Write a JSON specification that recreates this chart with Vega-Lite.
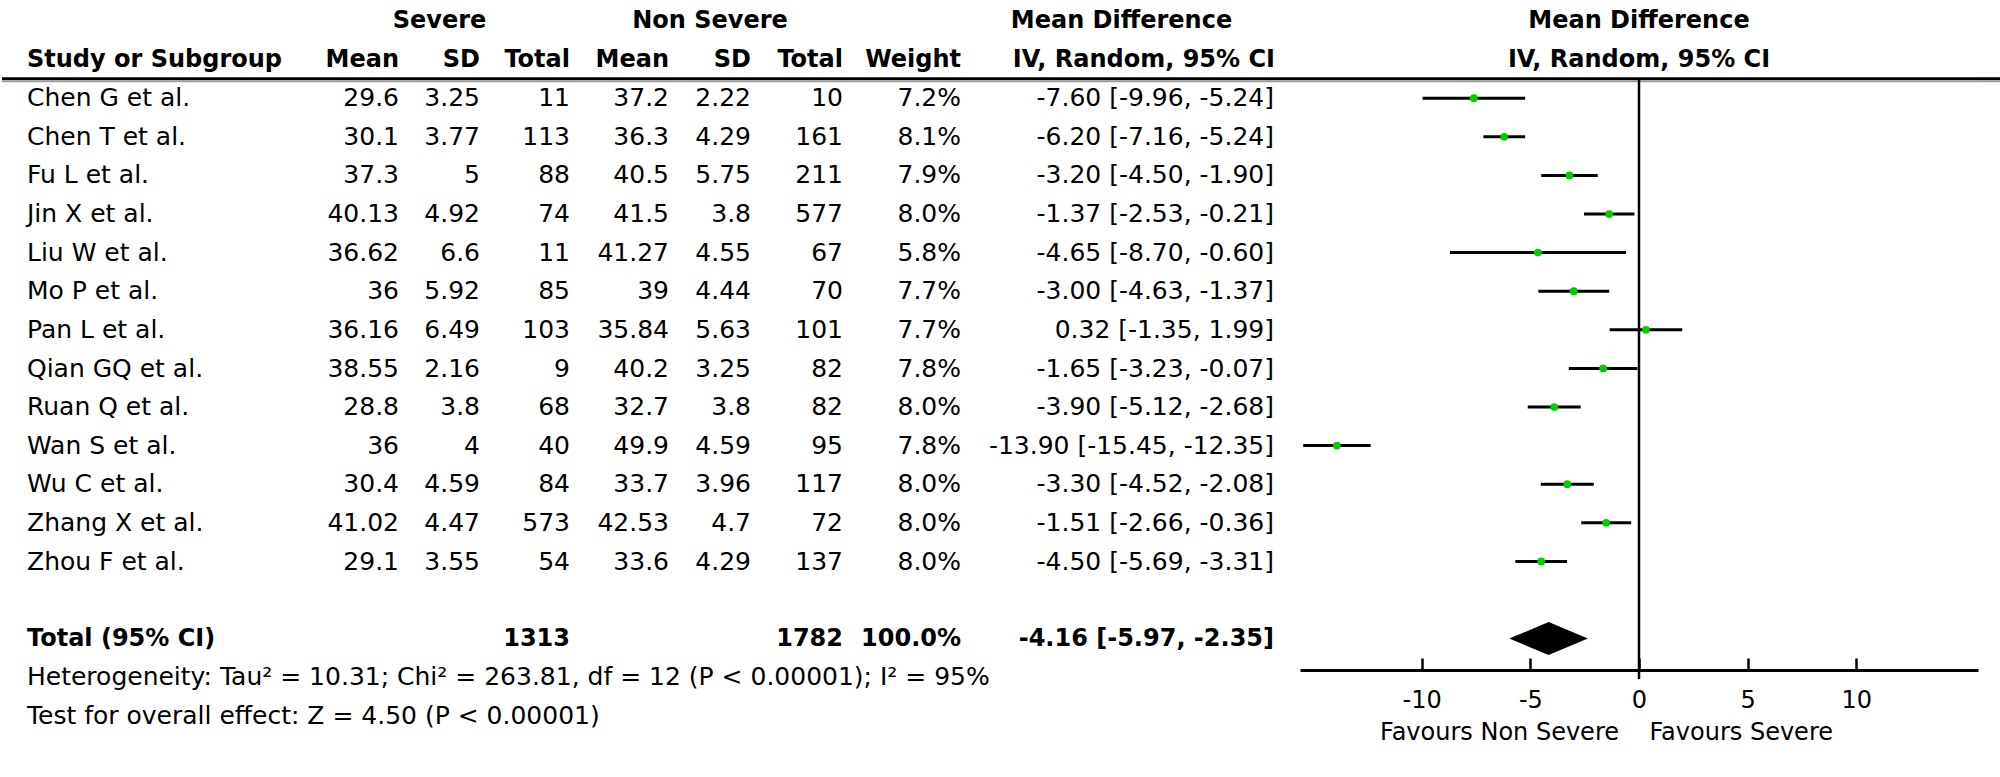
{
  "$schema": "https://vega.github.io/schema/vega-lite/v6.json",
  "background": "white",
  "padding": 0,
  "bounds": "flush",
  "spacing": 0,
  "config": {
    "view": {"stroke": null},
    "scale": {"round": false},
    "text": {"font": "DejaVu Sans", "fontSize": 25, "color": "black", "baseline": "middle"}
  },
  "datasets": {
    "studies": [
      {"study": "Chen G et al.", "m1": 29.6, "sd1": 3.25, "n1": 11, "m2": 37.2, "sd2": 2.22, "n2": 10, "weight": "7.2%", "ci": "-7.60 [-9.96, -5.24]", "md": -7.60, "lo": -9.96, "hi": -5.24},
      {"study": "Chen T et al.", "m1": 30.1, "sd1": 3.77, "n1": 113, "m2": 36.3, "sd2": 4.29, "n2": 161, "weight": "8.1%", "ci": "-6.20 [-7.16, -5.24]", "md": -6.20, "lo": -7.16, "hi": -5.24},
      {"study": "Fu L et al.", "m1": 37.3, "sd1": 5, "n1": 88, "m2": 40.5, "sd2": 5.75, "n2": 211, "weight": "7.9%", "ci": "-3.20 [-4.50, -1.90]", "md": -3.20, "lo": -4.50, "hi": -1.90},
      {"study": "Jin X et al.", "m1": 40.13, "sd1": 4.92, "n1": 74, "m2": 41.5, "sd2": 3.8, "n2": 577, "weight": "8.0%", "ci": "-1.37 [-2.53, -0.21]", "md": -1.37, "lo": -2.53, "hi": -0.21},
      {"study": "Liu W et al.", "m1": 36.62, "sd1": 6.6, "n1": 11, "m2": 41.27, "sd2": 4.55, "n2": 67, "weight": "5.8%", "ci": "-4.65 [-8.70, -0.60]", "md": -4.65, "lo": -8.70, "hi": -0.60},
      {"study": "Mo P et al.", "m1": 36, "sd1": 5.92, "n1": 85, "m2": 39, "sd2": 4.44, "n2": 70, "weight": "7.7%", "ci": "-3.00 [-4.63, -1.37]", "md": -3.00, "lo": -4.63, "hi": -1.37},
      {"study": "Pan L et al.", "m1": 36.16, "sd1": 6.49, "n1": 103, "m2": 35.84, "sd2": 5.63, "n2": 101, "weight": "7.7%", "ci": "0.32 [-1.35, 1.99]", "md": 0.32, "lo": -1.35, "hi": 1.99},
      {"study": "Qian GQ et al.", "m1": 38.55, "sd1": 2.16, "n1": 9, "m2": 40.2, "sd2": 3.25, "n2": 82, "weight": "7.8%", "ci": "-1.65 [-3.23, -0.07]", "md": -1.65, "lo": -3.23, "hi": -0.07},
      {"study": "Ruan Q et al.", "m1": 28.8, "sd1": 3.8, "n1": 68, "m2": 32.7, "sd2": 3.8, "n2": 82, "weight": "8.0%", "ci": "-3.90 [-5.12, -2.68]", "md": -3.90, "lo": -5.12, "hi": -2.68},
      {"study": "Wan S et al.", "m1": 36, "sd1": 4, "n1": 40, "m2": 49.9, "sd2": 4.59, "n2": 95, "weight": "7.8%", "ci": "-13.90 [-15.45, -12.35]", "md": -13.90, "lo": -15.45, "hi": -12.35},
      {"study": "Wu C et al.", "m1": 30.4, "sd1": 4.59, "n1": 84, "m2": 33.7, "sd2": 3.96, "n2": 117, "weight": "8.0%", "ci": "-3.30 [-4.52, -2.08]", "md": -3.30, "lo": -4.52, "hi": -2.08},
      {"study": "Zhang X et al.", "m1": 41.02, "sd1": 4.47, "n1": 573, "m2": 42.53, "sd2": 4.7, "n2": 72, "weight": "8.0%", "ci": "-1.51 [-2.66, -0.36]", "md": -1.51, "lo": -2.66, "hi": -0.36},
      {"study": "Zhou F et al.", "m1": 29.1, "sd1": 3.55, "n1": 54, "m2": 33.6, "sd2": 4.29, "n2": 137, "weight": "8.0%", "ci": "-4.50 [-5.69, -3.31]", "md": -4.50, "lo": -5.69, "hi": -3.31}
    ],
    "total": [
      {"label": "Total (95% CI)", "n1": 1313, "n2": 1782, "weight": "100.0%", "ci": "-4.16 [-5.97, -2.35]", "md": -4.16, "lo": -5.97, "hi": -2.35}
    ]
  },
  "hconcat": [
    {
      "width": 50, "height": 737,
      "layer": [
        {"data": {"values": [{}]}, "mark": {"type": "text", "text": "Study or Subgroup", "align": "left", "fontWeight": "bold", "fontSize": 24},
         "encoding": {"y": {"datum": "H2", "scale": {"type": "point", "domain": ["H1","H2","Chen G et al.","Chen T et al.","Fu L et al.","Jin X et al.","Liu W et al.","Mo P et al.","Pan L et al.","Qian GQ et al.","Ruan Q et al.","Wan S et al.","Wu C et al.","Zhang X et al.","Zhou F et al.","gap","Total (95% CI)","Heterogeneity","Test"], "padding": 0.544, "round": false}, "axis": null}}},
        {"data": {"name": "studies"}, "mark": {"type": "text", "align": "left"},
         "encoding": {"y": {"field": "study", "type": "nominal", "scale": {"type": "point", "domain": ["H1","H2","Chen G et al.","Chen T et al.","Fu L et al.","Jin X et al.","Liu W et al.","Mo P et al.","Pan L et al.","Qian GQ et al.","Ruan Q et al.","Wan S et al.","Wu C et al.","Zhang X et al.","Zhou F et al.","gap","Total (95% CI)","Heterogeneity","Test"], "padding": 0.544, "round": false}, "axis": null}, "text": {"field": "study", "type": "nominal"}}},
        {"data": {"name": "total"}, "mark": {"type": "text", "align": "left", "fontWeight": "bold", "fontSize": 24},
         "encoding": {"y": {"field": "label", "type": "nominal", "scale": {"type": "point", "domain": ["H1","H2","Chen G et al.","Chen T et al.","Fu L et al.","Jin X et al.","Liu W et al.","Mo P et al.","Pan L et al.","Qian GQ et al.","Ruan Q et al.","Wan S et al.","Wu C et al.","Zhang X et al.","Zhou F et al.","gap","Total (95% CI)","Heterogeneity","Test"], "padding": 0.544, "round": false}, "axis": null}, "text": {"field": "label", "type": "nominal"}}},
        {"data": {"values": [{}]}, "mark": {"type": "text", "text": "Heterogeneity: Tau² = 10.31; Chi² = 263.81, df = 12 (P < 0.00001); I² = 95%", "align": "left"},
         "encoding": {"y": {"datum": "Heterogeneity", "scale": {"type": "point", "domain": ["H1","H2","Chen G et al.","Chen T et al.","Fu L et al.","Jin X et al.","Liu W et al.","Mo P et al.","Pan L et al.","Qian GQ et al.","Ruan Q et al.","Wan S et al.","Wu C et al.","Zhang X et al.","Zhou F et al.","gap","Total (95% CI)","Heterogeneity","Test"], "padding": 0.544, "round": false}, "axis": null}}},
        {"data": {"values": [{}]}, "mark": {"type": "text", "text": "Test for overall effect: Z = 4.50 (P < 0.00001)", "align": "left"},
         "encoding": {"y": {"datum": "Test", "scale": {"type": "point", "domain": ["H1","H2","Chen G et al.","Chen T et al.","Fu L et al.","Jin X et al.","Liu W et al.","Mo P et al.","Pan L et al.","Qian GQ et al.","Ruan Q et al.","Wan S et al.","Wu C et al.","Zhang X et al.","Zhou F et al.","gap","Total (95% CI)","Heterogeneity","Test"], "padding": 0.544, "round": false}, "axis": null}}},
        {"data": {"values": [{}]}, "mark": {"type": "rule", "color": "#9a9a9a", "strokeWidth": 1.5, "yOffset": -16.8},
         "encoding": {"y": {"datum": "Chen G et al.", "scale": {"type": "point", "domain": ["H1","H2","Chen G et al.","Chen T et al.","Fu L et al.","Jin X et al.","Liu W et al.","Mo P et al.","Pan L et al.","Qian GQ et al.","Ruan Q et al.","Wan S et al.","Wu C et al.","Zhang X et al.","Zhou F et al.","gap","Total (95% CI)","Heterogeneity","Test"], "padding": 0.544, "round": false}, "axis": null}}},
        {"data": {"values": [{}]}, "mark": {"type": "rule", "color": "black", "strokeWidth": 3, "yOffset": -19.5},
         "encoding": {"y": {"datum": "Chen G et al.", "scale": {"type": "point", "domain": ["H1","H2","Chen G et al.","Chen T et al.","Fu L et al.","Jin X et al.","Liu W et al.","Mo P et al.","Pan L et al.","Qian GQ et al.","Ruan Q et al.","Wan S et al.","Wu C et al.","Zhang X et al.","Zhou F et al.","gap","Total (95% CI)","Heterogeneity","Test"], "padding": 0.544, "round": false}, "axis": null}}}
      ]
    },
    {
      "width": 347, "height": 737,
      "layer": [
        {"data": {"values": [{}]}, "mark": {"type": "text", "text": "Mean", "align": "right", "fontWeight": "bold", "fontSize": 24},
         "encoding": {"x": {"value": "width"}, "y": {"datum": "H2", "scale": {"type": "point", "domain": ["H1","H2","Chen G et al.","Chen T et al.","Fu L et al.","Jin X et al.","Liu W et al.","Mo P et al.","Pan L et al.","Qian GQ et al.","Ruan Q et al.","Wan S et al.","Wu C et al.","Zhang X et al.","Zhou F et al.","gap","Total (95% CI)","Heterogeneity","Test"], "padding": 0.544, "round": false}, "axis": null}}},
        {"data": {"name": "studies"}, "mark": {"type": "text", "align": "right"},
         "encoding": {"x": {"value": "width"}, "y": {"field": "study", "type": "nominal", "scale": {"type": "point", "domain": ["H1","H2","Chen G et al.","Chen T et al.","Fu L et al.","Jin X et al.","Liu W et al.","Mo P et al.","Pan L et al.","Qian GQ et al.","Ruan Q et al.","Wan S et al.","Wu C et al.","Zhang X et al.","Zhou F et al.","gap","Total (95% CI)","Heterogeneity","Test"], "padding": 0.544, "round": false}, "axis": null}, "text": {"field": "m1", "type": "nominal"}}},
        {"data": {"values": [{}]}, "mark": {"type": "rule", "color": "#9a9a9a", "strokeWidth": 1.5, "yOffset": -16.8},
         "encoding": {"y": {"datum": "Chen G et al.", "scale": {"type": "point", "domain": ["H1","H2","Chen G et al.","Chen T et al.","Fu L et al.","Jin X et al.","Liu W et al.","Mo P et al.","Pan L et al.","Qian GQ et al.","Ruan Q et al.","Wan S et al.","Wu C et al.","Zhang X et al.","Zhou F et al.","gap","Total (95% CI)","Heterogeneity","Test"], "padding": 0.544, "round": false}, "axis": null}}},
        {"data": {"values": [{}]}, "mark": {"type": "rule", "color": "black", "strokeWidth": 3, "yOffset": -19.5},
         "encoding": {"y": {"datum": "Chen G et al.", "scale": {"type": "point", "domain": ["H1","H2","Chen G et al.","Chen T et al.","Fu L et al.","Jin X et al.","Liu W et al.","Mo P et al.","Pan L et al.","Qian GQ et al.","Ruan Q et al.","Wan S et al.","Wu C et al.","Zhang X et al.","Zhou F et al.","gap","Total (95% CI)","Heterogeneity","Test"], "padding": 0.544, "round": false}, "axis": null}}}
      ]
    },
    {
      "width": 81, "height": 737,
      "layer": [
        {"data": {"values": [{}]}, "mark": {"type": "text", "text": "Severe", "align": "center", "fontWeight": "bold", "fontSize": 24},
         "encoding": {"y": {"datum": "H1", "scale": {"type": "point", "domain": ["H1","H2","Chen G et al.","Chen T et al.","Fu L et al.","Jin X et al.","Liu W et al.","Mo P et al.","Pan L et al.","Qian GQ et al.","Ruan Q et al.","Wan S et al.","Wu C et al.","Zhang X et al.","Zhou F et al.","gap","Total (95% CI)","Heterogeneity","Test"], "padding": 0.544, "round": false}, "axis": null}}},
        {"data": {"values": [{}]}, "mark": {"type": "text", "text": "SD", "align": "right", "fontWeight": "bold", "fontSize": 24},
         "encoding": {"x": {"value": "width"}, "y": {"datum": "H2", "scale": {"type": "point", "domain": ["H1","H2","Chen G et al.","Chen T et al.","Fu L et al.","Jin X et al.","Liu W et al.","Mo P et al.","Pan L et al.","Qian GQ et al.","Ruan Q et al.","Wan S et al.","Wu C et al.","Zhang X et al.","Zhou F et al.","gap","Total (95% CI)","Heterogeneity","Test"], "padding": 0.544, "round": false}, "axis": null}}},
        {"data": {"name": "studies"}, "mark": {"type": "text", "align": "right"},
         "encoding": {"x": {"value": "width"}, "y": {"field": "study", "type": "nominal", "scale": {"type": "point", "domain": ["H1","H2","Chen G et al.","Chen T et al.","Fu L et al.","Jin X et al.","Liu W et al.","Mo P et al.","Pan L et al.","Qian GQ et al.","Ruan Q et al.","Wan S et al.","Wu C et al.","Zhang X et al.","Zhou F et al.","gap","Total (95% CI)","Heterogeneity","Test"], "padding": 0.544, "round": false}, "axis": null}, "text": {"field": "sd1", "type": "nominal"}}},
        {"data": {"values": [{}]}, "mark": {"type": "rule", "color": "#9a9a9a", "strokeWidth": 1.5, "yOffset": -16.8},
         "encoding": {"y": {"datum": "Chen G et al.", "scale": {"type": "point", "domain": ["H1","H2","Chen G et al.","Chen T et al.","Fu L et al.","Jin X et al.","Liu W et al.","Mo P et al.","Pan L et al.","Qian GQ et al.","Ruan Q et al.","Wan S et al.","Wu C et al.","Zhang X et al.","Zhou F et al.","gap","Total (95% CI)","Heterogeneity","Test"], "padding": 0.544, "round": false}, "axis": null}}},
        {"data": {"values": [{}]}, "mark": {"type": "rule", "color": "black", "strokeWidth": 3, "yOffset": -19.5},
         "encoding": {"y": {"datum": "Chen G et al.", "scale": {"type": "point", "domain": ["H1","H2","Chen G et al.","Chen T et al.","Fu L et al.","Jin X et al.","Liu W et al.","Mo P et al.","Pan L et al.","Qian GQ et al.","Ruan Q et al.","Wan S et al.","Wu C et al.","Zhang X et al.","Zhou F et al.","gap","Total (95% CI)","Heterogeneity","Test"], "padding": 0.544, "round": false}, "axis": null}}}
      ]
    },
    {
      "width": 90, "height": 737,
      "layer": [
        {"data": {"values": [{}]}, "mark": {"type": "text", "text": "Total", "align": "right", "fontWeight": "bold", "fontSize": 24},
         "encoding": {"x": {"value": "width"}, "y": {"datum": "H2", "scale": {"type": "point", "domain": ["H1","H2","Chen G et al.","Chen T et al.","Fu L et al.","Jin X et al.","Liu W et al.","Mo P et al.","Pan L et al.","Qian GQ et al.","Ruan Q et al.","Wan S et al.","Wu C et al.","Zhang X et al.","Zhou F et al.","gap","Total (95% CI)","Heterogeneity","Test"], "padding": 0.544, "round": false}, "axis": null}}},
        {"data": {"name": "studies"}, "mark": {"type": "text", "align": "right"},
         "encoding": {"x": {"value": "width"}, "y": {"field": "study", "type": "nominal", "scale": {"type": "point", "domain": ["H1","H2","Chen G et al.","Chen T et al.","Fu L et al.","Jin X et al.","Liu W et al.","Mo P et al.","Pan L et al.","Qian GQ et al.","Ruan Q et al.","Wan S et al.","Wu C et al.","Zhang X et al.","Zhou F et al.","gap","Total (95% CI)","Heterogeneity","Test"], "padding": 0.544, "round": false}, "axis": null}, "text": {"field": "n1", "type": "nominal"}}},
        {"data": {"name": "total"}, "mark": {"type": "text", "align": "right", "fontWeight": "bold", "fontSize": 24},
         "encoding": {"x": {"value": "width"}, "y": {"field": "label", "type": "nominal", "scale": {"type": "point", "domain": ["H1","H2","Chen G et al.","Chen T et al.","Fu L et al.","Jin X et al.","Liu W et al.","Mo P et al.","Pan L et al.","Qian GQ et al.","Ruan Q et al.","Wan S et al.","Wu C et al.","Zhang X et al.","Zhou F et al.","gap","Total (95% CI)","Heterogeneity","Test"], "padding": 0.544, "round": false}, "axis": null}, "text": {"field": "n1", "type": "nominal"}}},
        {"data": {"values": [{}]}, "mark": {"type": "rule", "color": "#9a9a9a", "strokeWidth": 1.5, "yOffset": -16.8},
         "encoding": {"y": {"datum": "Chen G et al.", "scale": {"type": "point", "domain": ["H1","H2","Chen G et al.","Chen T et al.","Fu L et al.","Jin X et al.","Liu W et al.","Mo P et al.","Pan L et al.","Qian GQ et al.","Ruan Q et al.","Wan S et al.","Wu C et al.","Zhang X et al.","Zhou F et al.","gap","Total (95% CI)","Heterogeneity","Test"], "padding": 0.544, "round": false}, "axis": null}}},
        {"data": {"values": [{}]}, "mark": {"type": "rule", "color": "black", "strokeWidth": 3, "yOffset": -19.5},
         "encoding": {"y": {"datum": "Chen G et al.", "scale": {"type": "point", "domain": ["H1","H2","Chen G et al.","Chen T et al.","Fu L et al.","Jin X et al.","Liu W et al.","Mo P et al.","Pan L et al.","Qian GQ et al.","Ruan Q et al.","Wan S et al.","Wu C et al.","Zhang X et al.","Zhou F et al.","gap","Total (95% CI)","Heterogeneity","Test"], "padding": 0.544, "round": false}, "axis": null}}}
      ]
    },
    {
      "width": 99, "height": 737,
      "layer": [
        {"data": {"values": [{}]}, "mark": {"type": "text", "text": "Mean", "align": "right", "fontWeight": "bold", "fontSize": 24},
         "encoding": {"x": {"value": "width"}, "y": {"datum": "H2", "scale": {"type": "point", "domain": ["H1","H2","Chen G et al.","Chen T et al.","Fu L et al.","Jin X et al.","Liu W et al.","Mo P et al.","Pan L et al.","Qian GQ et al.","Ruan Q et al.","Wan S et al.","Wu C et al.","Zhang X et al.","Zhou F et al.","gap","Total (95% CI)","Heterogeneity","Test"], "padding": 0.544, "round": false}, "axis": null}}},
        {"data": {"name": "studies"}, "mark": {"type": "text", "align": "right"},
         "encoding": {"x": {"value": "width"}, "y": {"field": "study", "type": "nominal", "scale": {"type": "point", "domain": ["H1","H2","Chen G et al.","Chen T et al.","Fu L et al.","Jin X et al.","Liu W et al.","Mo P et al.","Pan L et al.","Qian GQ et al.","Ruan Q et al.","Wan S et al.","Wu C et al.","Zhang X et al.","Zhou F et al.","gap","Total (95% CI)","Heterogeneity","Test"], "padding": 0.544, "round": false}, "axis": null}, "text": {"field": "m2", "type": "nominal"}}},
        {"data": {"values": [{}]}, "mark": {"type": "rule", "color": "#9a9a9a", "strokeWidth": 1.5, "yOffset": -16.8},
         "encoding": {"y": {"datum": "Chen G et al.", "scale": {"type": "point", "domain": ["H1","H2","Chen G et al.","Chen T et al.","Fu L et al.","Jin X et al.","Liu W et al.","Mo P et al.","Pan L et al.","Qian GQ et al.","Ruan Q et al.","Wan S et al.","Wu C et al.","Zhang X et al.","Zhou F et al.","gap","Total (95% CI)","Heterogeneity","Test"], "padding": 0.544, "round": false}, "axis": null}}},
        {"data": {"values": [{}]}, "mark": {"type": "rule", "color": "black", "strokeWidth": 3, "yOffset": -19.5},
         "encoding": {"y": {"datum": "Chen G et al.", "scale": {"type": "point", "domain": ["H1","H2","Chen G et al.","Chen T et al.","Fu L et al.","Jin X et al.","Liu W et al.","Mo P et al.","Pan L et al.","Qian GQ et al.","Ruan Q et al.","Wan S et al.","Wu C et al.","Zhang X et al.","Zhou F et al.","gap","Total (95% CI)","Heterogeneity","Test"], "padding": 0.544, "round": false}, "axis": null}}}
      ]
    },
    {
      "width": 82, "height": 737,
      "layer": [
        {"data": {"values": [{}]}, "mark": {"type": "text", "text": "Non Severe", "align": "center", "fontWeight": "bold", "fontSize": 24},
         "encoding": {"y": {"datum": "H1", "scale": {"type": "point", "domain": ["H1","H2","Chen G et al.","Chen T et al.","Fu L et al.","Jin X et al.","Liu W et al.","Mo P et al.","Pan L et al.","Qian GQ et al.","Ruan Q et al.","Wan S et al.","Wu C et al.","Zhang X et al.","Zhou F et al.","gap","Total (95% CI)","Heterogeneity","Test"], "padding": 0.544, "round": false}, "axis": null}}},
        {"data": {"values": [{}]}, "mark": {"type": "text", "text": "SD", "align": "right", "fontWeight": "bold", "fontSize": 24},
         "encoding": {"x": {"value": "width"}, "y": {"datum": "H2", "scale": {"type": "point", "domain": ["H1","H2","Chen G et al.","Chen T et al.","Fu L et al.","Jin X et al.","Liu W et al.","Mo P et al.","Pan L et al.","Qian GQ et al.","Ruan Q et al.","Wan S et al.","Wu C et al.","Zhang X et al.","Zhou F et al.","gap","Total (95% CI)","Heterogeneity","Test"], "padding": 0.544, "round": false}, "axis": null}}},
        {"data": {"name": "studies"}, "mark": {"type": "text", "align": "right"},
         "encoding": {"x": {"value": "width"}, "y": {"field": "study", "type": "nominal", "scale": {"type": "point", "domain": ["H1","H2","Chen G et al.","Chen T et al.","Fu L et al.","Jin X et al.","Liu W et al.","Mo P et al.","Pan L et al.","Qian GQ et al.","Ruan Q et al.","Wan S et al.","Wu C et al.","Zhang X et al.","Zhou F et al.","gap","Total (95% CI)","Heterogeneity","Test"], "padding": 0.544, "round": false}, "axis": null}, "text": {"field": "sd2", "type": "nominal"}}},
        {"data": {"values": [{}]}, "mark": {"type": "rule", "color": "#9a9a9a", "strokeWidth": 1.5, "yOffset": -16.8},
         "encoding": {"y": {"datum": "Chen G et al.", "scale": {"type": "point", "domain": ["H1","H2","Chen G et al.","Chen T et al.","Fu L et al.","Jin X et al.","Liu W et al.","Mo P et al.","Pan L et al.","Qian GQ et al.","Ruan Q et al.","Wan S et al.","Wu C et al.","Zhang X et al.","Zhou F et al.","gap","Total (95% CI)","Heterogeneity","Test"], "padding": 0.544, "round": false}, "axis": null}}},
        {"data": {"values": [{}]}, "mark": {"type": "rule", "color": "black", "strokeWidth": 3, "yOffset": -19.5},
         "encoding": {"y": {"datum": "Chen G et al.", "scale": {"type": "point", "domain": ["H1","H2","Chen G et al.","Chen T et al.","Fu L et al.","Jin X et al.","Liu W et al.","Mo P et al.","Pan L et al.","Qian GQ et al.","Ruan Q et al.","Wan S et al.","Wu C et al.","Zhang X et al.","Zhou F et al.","gap","Total (95% CI)","Heterogeneity","Test"], "padding": 0.544, "round": false}, "axis": null}}}
      ]
    },
    {
      "width": 92, "height": 737,
      "layer": [
        {"data": {"values": [{}]}, "mark": {"type": "text", "text": "Total", "align": "right", "fontWeight": "bold", "fontSize": 24},
         "encoding": {"x": {"value": "width"}, "y": {"datum": "H2", "scale": {"type": "point", "domain": ["H1","H2","Chen G et al.","Chen T et al.","Fu L et al.","Jin X et al.","Liu W et al.","Mo P et al.","Pan L et al.","Qian GQ et al.","Ruan Q et al.","Wan S et al.","Wu C et al.","Zhang X et al.","Zhou F et al.","gap","Total (95% CI)","Heterogeneity","Test"], "padding": 0.544, "round": false}, "axis": null}}},
        {"data": {"name": "studies"}, "mark": {"type": "text", "align": "right"},
         "encoding": {"x": {"value": "width"}, "y": {"field": "study", "type": "nominal", "scale": {"type": "point", "domain": ["H1","H2","Chen G et al.","Chen T et al.","Fu L et al.","Jin X et al.","Liu W et al.","Mo P et al.","Pan L et al.","Qian GQ et al.","Ruan Q et al.","Wan S et al.","Wu C et al.","Zhang X et al.","Zhou F et al.","gap","Total (95% CI)","Heterogeneity","Test"], "padding": 0.544, "round": false}, "axis": null}, "text": {"field": "n2", "type": "nominal"}}},
        {"data": {"name": "total"}, "mark": {"type": "text", "align": "right", "fontWeight": "bold", "fontSize": 24},
         "encoding": {"x": {"value": "width"}, "y": {"field": "label", "type": "nominal", "scale": {"type": "point", "domain": ["H1","H2","Chen G et al.","Chen T et al.","Fu L et al.","Jin X et al.","Liu W et al.","Mo P et al.","Pan L et al.","Qian GQ et al.","Ruan Q et al.","Wan S et al.","Wu C et al.","Zhang X et al.","Zhou F et al.","gap","Total (95% CI)","Heterogeneity","Test"], "padding": 0.544, "round": false}, "axis": null}, "text": {"field": "n2", "type": "nominal"}}},
        {"data": {"values": [{}]}, "mark": {"type": "rule", "color": "#9a9a9a", "strokeWidth": 1.5, "yOffset": -16.8},
         "encoding": {"y": {"datum": "Chen G et al.", "scale": {"type": "point", "domain": ["H1","H2","Chen G et al.","Chen T et al.","Fu L et al.","Jin X et al.","Liu W et al.","Mo P et al.","Pan L et al.","Qian GQ et al.","Ruan Q et al.","Wan S et al.","Wu C et al.","Zhang X et al.","Zhou F et al.","gap","Total (95% CI)","Heterogeneity","Test"], "padding": 0.544, "round": false}, "axis": null}}},
        {"data": {"values": [{}]}, "mark": {"type": "rule", "color": "black", "strokeWidth": 3, "yOffset": -19.5},
         "encoding": {"y": {"datum": "Chen G et al.", "scale": {"type": "point", "domain": ["H1","H2","Chen G et al.","Chen T et al.","Fu L et al.","Jin X et al.","Liu W et al.","Mo P et al.","Pan L et al.","Qian GQ et al.","Ruan Q et al.","Wan S et al.","Wu C et al.","Zhang X et al.","Zhou F et al.","gap","Total (95% CI)","Heterogeneity","Test"], "padding": 0.544, "round": false}, "axis": null}}}
      ]
    },
    {
      "width": 118, "height": 737,
      "layer": [
        {"data": {"values": [{}]}, "mark": {"type": "text", "text": "Weight", "align": "right", "fontWeight": "bold", "fontSize": 24},
         "encoding": {"x": {"value": "width"}, "y": {"datum": "H2", "scale": {"type": "point", "domain": ["H1","H2","Chen G et al.","Chen T et al.","Fu L et al.","Jin X et al.","Liu W et al.","Mo P et al.","Pan L et al.","Qian GQ et al.","Ruan Q et al.","Wan S et al.","Wu C et al.","Zhang X et al.","Zhou F et al.","gap","Total (95% CI)","Heterogeneity","Test"], "padding": 0.544, "round": false}, "axis": null}}},
        {"data": {"name": "studies"}, "mark": {"type": "text", "align": "right"},
         "encoding": {"x": {"value": "width"}, "y": {"field": "study", "type": "nominal", "scale": {"type": "point", "domain": ["H1","H2","Chen G et al.","Chen T et al.","Fu L et al.","Jin X et al.","Liu W et al.","Mo P et al.","Pan L et al.","Qian GQ et al.","Ruan Q et al.","Wan S et al.","Wu C et al.","Zhang X et al.","Zhou F et al.","gap","Total (95% CI)","Heterogeneity","Test"], "padding": 0.544, "round": false}, "axis": null}, "text": {"field": "weight", "type": "nominal"}}},
        {"data": {"name": "total"}, "mark": {"type": "text", "align": "right", "fontWeight": "bold", "fontSize": 24},
         "encoding": {"x": {"value": "width"}, "y": {"field": "label", "type": "nominal", "scale": {"type": "point", "domain": ["H1","H2","Chen G et al.","Chen T et al.","Fu L et al.","Jin X et al.","Liu W et al.","Mo P et al.","Pan L et al.","Qian GQ et al.","Ruan Q et al.","Wan S et al.","Wu C et al.","Zhang X et al.","Zhou F et al.","gap","Total (95% CI)","Heterogeneity","Test"], "padding": 0.544, "round": false}, "axis": null}, "text": {"field": "weight", "type": "nominal"}}},
        {"data": {"values": [{}]}, "mark": {"type": "rule", "color": "#9a9a9a", "strokeWidth": 1.5, "yOffset": -16.8},
         "encoding": {"y": {"datum": "Chen G et al.", "scale": {"type": "point", "domain": ["H1","H2","Chen G et al.","Chen T et al.","Fu L et al.","Jin X et al.","Liu W et al.","Mo P et al.","Pan L et al.","Qian GQ et al.","Ruan Q et al.","Wan S et al.","Wu C et al.","Zhang X et al.","Zhou F et al.","gap","Total (95% CI)","Heterogeneity","Test"], "padding": 0.544, "round": false}, "axis": null}}},
        {"data": {"values": [{}]}, "mark": {"type": "rule", "color": "black", "strokeWidth": 3, "yOffset": -19.5},
         "encoding": {"y": {"datum": "Chen G et al.", "scale": {"type": "point", "domain": ["H1","H2","Chen G et al.","Chen T et al.","Fu L et al.","Jin X et al.","Liu W et al.","Mo P et al.","Pan L et al.","Qian GQ et al.","Ruan Q et al.","Wan S et al.","Wu C et al.","Zhang X et al.","Zhou F et al.","gap","Total (95% CI)","Heterogeneity","Test"], "padding": 0.544, "round": false}, "axis": null}}}
      ]
    },
    {
      "width": 339, "height": 737,
      "layer": [
        {"data": {"values": [{}]}, "mark": {"type": "text", "text": "Mean Difference", "align": "center", "fontWeight": "bold", "fontSize": 24, "dx": -9},
         "encoding": {"y": {"datum": "H1", "scale": {"type": "point", "domain": ["H1","H2","Chen G et al.","Chen T et al.","Fu L et al.","Jin X et al.","Liu W et al.","Mo P et al.","Pan L et al.","Qian GQ et al.","Ruan Q et al.","Wan S et al.","Wu C et al.","Zhang X et al.","Zhou F et al.","gap","Total (95% CI)","Heterogeneity","Test"], "padding": 0.544, "round": false}, "axis": null}}},
        {"data": {"values": [{}]}, "mark": {"type": "text", "text": "IV, Random, 95% CI", "align": "right", "fontWeight": "bold", "fontSize": 24, "dx": -25},
         "encoding": {"x": {"value": "width"}, "y": {"datum": "H2", "scale": {"type": "point", "domain": ["H1","H2","Chen G et al.","Chen T et al.","Fu L et al.","Jin X et al.","Liu W et al.","Mo P et al.","Pan L et al.","Qian GQ et al.","Ruan Q et al.","Wan S et al.","Wu C et al.","Zhang X et al.","Zhou F et al.","gap","Total (95% CI)","Heterogeneity","Test"], "padding": 0.544, "round": false}, "axis": null}}},
        {"data": {"name": "studies"}, "mark": {"type": "text", "align": "right", "dx": -26},
         "encoding": {"x": {"value": "width"}, "y": {"field": "study", "type": "nominal", "scale": {"type": "point", "domain": ["H1","H2","Chen G et al.","Chen T et al.","Fu L et al.","Jin X et al.","Liu W et al.","Mo P et al.","Pan L et al.","Qian GQ et al.","Ruan Q et al.","Wan S et al.","Wu C et al.","Zhang X et al.","Zhou F et al.","gap","Total (95% CI)","Heterogeneity","Test"], "padding": 0.544, "round": false}, "axis": null}, "text": {"field": "ci", "type": "nominal"}}},
        {"data": {"name": "total"}, "mark": {"type": "text", "align": "right", "fontWeight": "bold", "fontSize": 24, "dx": -26},
         "encoding": {"x": {"value": "width"}, "y": {"field": "label", "type": "nominal", "scale": {"type": "point", "domain": ["H1","H2","Chen G et al.","Chen T et al.","Fu L et al.","Jin X et al.","Liu W et al.","Mo P et al.","Pan L et al.","Qian GQ et al.","Ruan Q et al.","Wan S et al.","Wu C et al.","Zhang X et al.","Zhou F et al.","gap","Total (95% CI)","Heterogeneity","Test"], "padding": 0.544, "round": false}, "axis": null}, "text": {"field": "ci", "type": "nominal"}}},
        {"data": {"values": [{}]}, "mark": {"type": "rule", "color": "#9a9a9a", "strokeWidth": 1.5, "yOffset": -16.8},
         "encoding": {"y": {"datum": "Chen G et al.", "scale": {"type": "point", "domain": ["H1","H2","Chen G et al.","Chen T et al.","Fu L et al.","Jin X et al.","Liu W et al.","Mo P et al.","Pan L et al.","Qian GQ et al.","Ruan Q et al.","Wan S et al.","Wu C et al.","Zhang X et al.","Zhou F et al.","gap","Total (95% CI)","Heterogeneity","Test"], "padding": 0.544, "round": false}, "axis": null}}},
        {"data": {"values": [{}]}, "mark": {"type": "rule", "color": "black", "strokeWidth": 3, "yOffset": -19.5},
         "encoding": {"y": {"datum": "Chen G et al.", "scale": {"type": "point", "domain": ["H1","H2","Chen G et al.","Chen T et al.","Fu L et al.","Jin X et al.","Liu W et al.","Mo P et al.","Pan L et al.","Qian GQ et al.","Ruan Q et al.","Wan S et al.","Wu C et al.","Zhang X et al.","Zhou F et al.","gap","Total (95% CI)","Heterogeneity","Test"], "padding": 0.544, "round": false}, "axis": null}}}
      ]
    },
    {
      "width": 678, "height": 670,
      "layer": [
        {"data": {"values": [{}]}, "mark": {"type": "text", "text": "Mean Difference", "align": "center", "fontWeight": "bold", "fontSize": 24},
         "encoding": {"y": {"datum": "H1", "scale": {"type": "point", "domain": ["H1","H2","Chen G et al.","Chen T et al.","Fu L et al.","Jin X et al.","Liu W et al.","Mo P et al.","Pan L et al.","Qian GQ et al.","Ruan Q et al.","Wan S et al.","Wu C et al.","Zhang X et al.","Zhou F et al.","gap","Total (95% CI)"], "padding": 0.6788, "align": 0.4008, "round": false}, "axis": null}}},
        {"data": {"values": [{}]}, "mark": {"type": "text", "text": "IV, Random, 95% CI", "align": "center", "fontWeight": "bold", "fontSize": 24},
         "encoding": {"y": {"datum": "H2", "scale": {"type": "point", "domain": ["H1","H2","Chen G et al.","Chen T et al.","Fu L et al.","Jin X et al.","Liu W et al.","Mo P et al.","Pan L et al.","Qian GQ et al.","Ruan Q et al.","Wan S et al.","Wu C et al.","Zhang X et al.","Zhou F et al.","gap","Total (95% CI)"], "padding": 0.6788, "align": 0.4008, "round": false}, "axis": null}}},
        {"data": {"values": [{}]}, "mark": {"type": "rule", "color": "#9a9a9a", "strokeWidth": 1.5, "yOffset": -16.8},
         "encoding": {"y": {"datum": "Chen G et al.", "scale": {"type": "point", "domain": ["H1","H2","Chen G et al.","Chen T et al.","Fu L et al.","Jin X et al.","Liu W et al.","Mo P et al.","Pan L et al.","Qian GQ et al.","Ruan Q et al.","Wan S et al.","Wu C et al.","Zhang X et al.","Zhou F et al.","gap","Total (95% CI)"], "padding": 0.6788, "align": 0.4008, "round": false}, "axis": null}}},
        {"data": {"values": [{}]}, "mark": {"type": "rule", "color": "black", "strokeWidth": 3, "yOffset": -19.5},
         "encoding": {"y": {"datum": "Chen G et al.", "scale": {"type": "point", "domain": ["H1","H2","Chen G et al.","Chen T et al.","Fu L et al.","Jin X et al.","Liu W et al.","Mo P et al.","Pan L et al.","Qian GQ et al.","Ruan Q et al.","Wan S et al.","Wu C et al.","Zhang X et al.","Zhou F et al.","gap","Total (95% CI)"], "padding": 0.6788, "align": 0.4008, "round": false}, "axis": null}}},
        {"data": {"values": [{}]}, "mark": {"type": "rule", "color": "black", "strokeWidth": 2.5, "yOffset": -19.5, "y2Offset": 9},
         "encoding": {
           "x": {"datum": 0, "type": "quantitative", "scale": {"domain": [-15.6, 15.6], "nice": false, "zero": false}},
           "y": {"datum": "Chen G et al.", "scale": {"type": "point", "domain": ["H1","H2","Chen G et al.","Chen T et al.","Fu L et al.","Jin X et al.","Liu W et al.","Mo P et al.","Pan L et al.","Qian GQ et al.","Ruan Q et al.","Wan S et al.","Wu C et al.","Zhang X et al.","Zhou F et al.","gap","Total (95% CI)"], "padding": 0.6788, "align": 0.4008, "round": false}, "axis": null},
           "y2": {"value": "height"}}},
        {"data": {"name": "studies"}, "mark": {"type": "rule", "color": "black", "strokeWidth": 3},
         "encoding": {
           "x": {"field": "lo", "type": "quantitative", "title": "Favours Non Severe\u00a0\u00a0\u00a0\u00a0Favours Severe",
                 "scale": {"domain": [-15.6, 15.6], "nice": false, "zero": false},
                 "axis": {"values": [-10, -5, 0, 5, 10], "labelExpr": "'' + datum.value", "grid": false, "domainColor": "black", "domainWidth": 3, "tickColor": "black", "tickWidth": 2.5, "tickSize": -12, "labelPadding": 30, "labelFontSize": 24, "labelColor": "black", "labelFont": "DejaVu Sans", "labelFlush": false, "labelOverlap": false, "titleFont": "DejaVu Sans", "titleFontSize": 24, "titleFontWeight": "normal", "titleColor": "black", "titleX": 306, "titleY": 62, "titleAlign": "center", "titleBaseline": "middle"}},
           "x2": {"field": "hi"},
           "y": {"field": "study", "type": "nominal", "scale": {"type": "point", "domain": ["H1","H2","Chen G et al.","Chen T et al.","Fu L et al.","Jin X et al.","Liu W et al.","Mo P et al.","Pan L et al.","Qian GQ et al.","Ruan Q et al.","Wan S et al.","Wu C et al.","Zhang X et al.","Zhou F et al.","gap","Total (95% CI)"], "padding": 0.6788, "align": 0.4008, "round": false}, "axis": null}}},
        {"data": {"name": "studies"}, "mark": {"type": "point", "shape": "circle", "filled": true, "color": "#00cc00", "size": 60, "opacity": 1},
         "encoding": {
           "x": {"field": "md", "type": "quantitative", "title": "Favours Non Severe\u00a0\u00a0\u00a0\u00a0Favours Severe", "scale": {"domain": [-15.6, 15.6], "nice": false, "zero": false}},
           "y": {"field": "study", "type": "nominal", "scale": {"type": "point", "domain": ["H1","H2","Chen G et al.","Chen T et al.","Fu L et al.","Jin X et al.","Liu W et al.","Mo P et al.","Pan L et al.","Qian GQ et al.","Ruan Q et al.","Wan S et al.","Wu C et al.","Zhang X et al.","Zhou F et al.","gap","Total (95% CI)"], "padding": 0.6788, "align": 0.4008, "round": false}, "axis": null}}},
        {"data": {"name": "total"}, "mark": {"type": "point", "shape": "M-1,0L0,-0.42L1,0L0,0.42Z", "filled": true, "color": "black", "size": 6178, "opacity": 1},
         "encoding": {
           "x": {"field": "md", "type": "quantitative", "title": "Favours Non Severe\u00a0\u00a0\u00a0\u00a0Favours Severe", "scale": {"domain": [-15.6, 15.6], "nice": false, "zero": false}},
           "y": {"field": "label", "type": "nominal", "scale": {"type": "point", "domain": ["H1","H2","Chen G et al.","Chen T et al.","Fu L et al.","Jin X et al.","Liu W et al.","Mo P et al.","Pan L et al.","Qian GQ et al.","Ruan Q et al.","Wan S et al.","Wu C et al.","Zhang X et al.","Zhou F et al.","gap","Total (95% CI)"], "padding": 0.6788, "align": 0.4008, "round": false}, "axis": null}}}
      ]
    },
    {
      "width": 24, "height": 737,
      "layer": [
        {"data": {"values": [{}]}, "mark": {"type": "rule", "color": "#9a9a9a", "strokeWidth": 1.5, "yOffset": -16.8},
         "encoding": {"y": {"datum": "Chen G et al.", "scale": {"type": "point", "domain": ["H1","H2","Chen G et al.","Chen T et al.","Fu L et al.","Jin X et al.","Liu W et al.","Mo P et al.","Pan L et al.","Qian GQ et al.","Ruan Q et al.","Wan S et al.","Wu C et al.","Zhang X et al.","Zhou F et al.","gap","Total (95% CI)","Heterogeneity","Test"], "padding": 0.544, "round": false}, "axis": null}}},
        {"data": {"values": [{}]}, "mark": {"type": "rule", "color": "black", "strokeWidth": 3, "yOffset": -19.5},
         "encoding": {"y": {"datum": "Chen G et al.", "scale": {"type": "point", "domain": ["H1","H2","Chen G et al.","Chen T et al.","Fu L et al.","Jin X et al.","Liu W et al.","Mo P et al.","Pan L et al.","Qian GQ et al.","Ruan Q et al.","Wan S et al.","Wu C et al.","Zhang X et al.","Zhou F et al.","gap","Total (95% CI)","Heterogeneity","Test"], "padding": 0.544, "round": false}, "axis": null}}}
      ]
    }
  ]
}
